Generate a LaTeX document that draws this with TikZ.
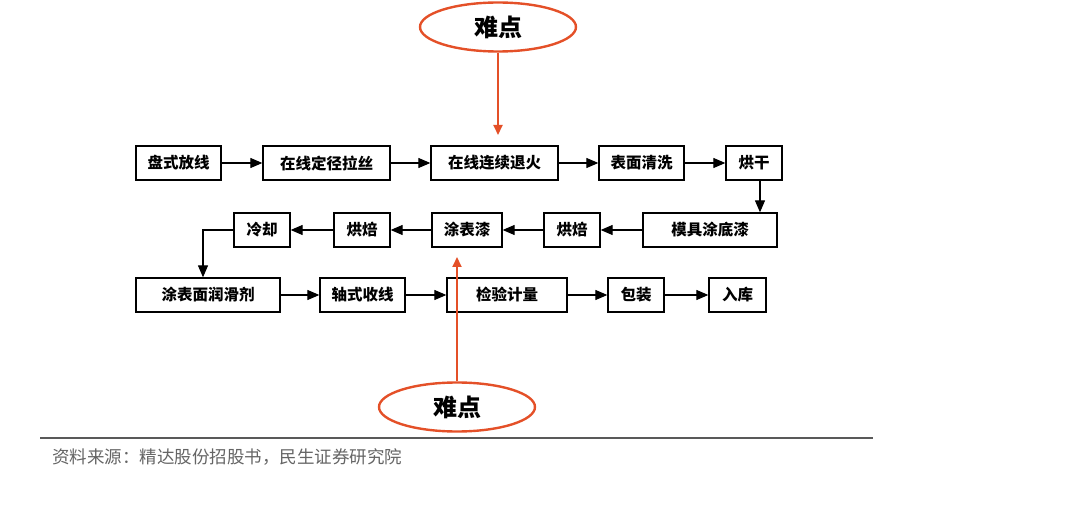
\documentclass[tikz,border=0pt]{standalone}
\usepackage{fontspec}
\newfontfamily\cjk{Noto Sans CJK SC}
\usetikzlibrary{arrows.meta,shapes.geometric,calc}
\definecolor{hard}{RGB}{228,80,40}
\definecolor{srcgray}{RGB}{100,100,100}
\tikzset{
  box/.style={draw, line width=1.3pt, minimum height=34pt, inner sep=0pt, font=\cjk\bfseries\fontsize{15.5}{15.5}\selectfont},
  arr/.style={-{Triangle[length=12pt,width=10pt]}, line width=1.2pt},
  hardell/.style={ellipse, draw=hard, line width=2.4pt, minimum width=156pt, minimum height=49pt, inner sep=0pt, font=\cjk\bfseries\fontsize{24}{24}\selectfont},
  hardarr/.style={draw=hard, line width=2pt, -{Triangle[length=10pt,width=9pt]}, hard}
}
\begin{document}
\begin{tikzpicture}[x=1pt,y=1pt]
\useasboundingbox (0,0) rectangle (1080,-505);
% row 1
\node[box, minimum width=85pt] (a1) at (178.5,-163) {盘式放线};
\node[box, minimum width=127pt] (a2) at (326.5,-163) {在线定径拉丝};
\node[box, minimum width=127pt] (a3) at (494.5,-163) {在线连续退火};
\node[box, minimum width=85pt] (a4) at (641.5,-163) {表面清洗};
\node[box, minimum width=56pt] (a5) at (754,-163) {烘干};
% row 2
\node[box, minimum width=134pt] (b1) at (710,-230) {模具涂底漆};
\node[box, minimum width=56pt] (b2) at (572,-230) {烘焙};
\node[box, minimum width=70pt] (b3) at (467,-230) {涂表漆};
\node[box, minimum width=56pt] (b4) at (362,-230) {烘焙};
\node[box, minimum width=56pt] (b5) at (262,-230) {冷却};
% row 3
\node[box, minimum width=144pt] (c1) at (208,-295) {涂表面润滑剂};
\node[box, minimum width=85pt] (c2) at (362.5,-295) {轴式收线};
\node[box, minimum width=120pt] (c3) at (507,-295) {检验计量};
\node[box, minimum width=56pt] (c4) at (636,-295) {包装};
\node[box, minimum width=57pt] (c5) at (737.5,-295) {入库};
% connectors
\draw[arr] (a1) -- (a2);
\draw[arr] (a2) -- (a3);
\draw[arr] (a3) -- (a4);
\draw[arr] (a4) -- (a5);
\coordinate (d1) at (760,0);
\draw[arr] (a5.south -| d1) -- (b1.north -| d1);
\draw[arr] (b1) -- (b2);
\draw[arr] (b2) -- (b3);
\draw[arr] (b3) -- (b4);
\draw[arr] (b4) -- (b5);
\coordinate (d2) at (203,0);
\draw[arr] (b5.west) -| (c1.north -| d2);
\draw[arr] (c1) -- (c2);
\draw[arr] (c2) -- (c3);
\draw[arr] (c3) -- (c4);
\draw[arr] (c4) -- (c5);
% difficulty markers
\node[hardell] (h1) at (498,-27) {难点};
\node[hardell] (h2) at (457,-407) {难点};
\coordinate (t1) at (498,-135);
\coordinate (t2) at (457,-257);
\draw[hardarr] (h1.south) -- (t1);
\draw[hardarr] (h2.north) -- (t2);
% source
\coordinate (l1) at (40,-438);
\coordinate (l2) at (873,-438);
\draw[line width=2pt, color=black!65] (l1) -- (l2);
\node[anchor=west, inner sep=0pt, font=\cjk\fontsize{17.5}{17.5}\selectfont, text=srcgray] (src) at (52,-457) {资料来源：精达股份招股书，民生证券研究院};
\end{tikzpicture}
\end{document}
